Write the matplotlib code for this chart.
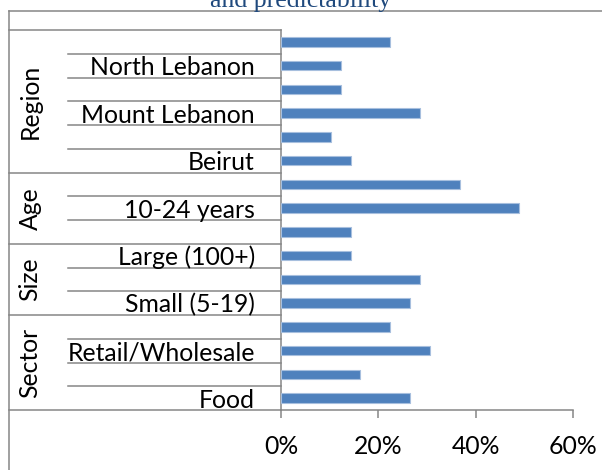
import matplotlib
matplotlib.use("Agg")
import matplotlib.pyplot as plt
from matplotlib.transforms import blended_transform_factory
from matplotlib.lines import Line2D

# ---- data ----
groups = ["Region", "Age", "Size", "Sector"]
group_sizes = [6, 3, 3, 4]
categories = ["", "North Lebanon", "", "Mount Lebanon", "", "Beirut",
              "", "10-24 years", "",
              "Large (100+)", "", "Small (5-19)",
              "", "Retail/Wholesale", "", "Food"]
values = [0.224, 0.1225, 0.1225, 0.286, 0.102, 0.143,
          0.367, 0.489, 0.143,
          0.143, 0.286, 0.265,
          0.224, 0.306, 0.163, 0.265]
x_ticks = [0, 0.2, 0.4, 0.6]
x_tick_labels = ["0%", "20%", "40%", "60%"]
title_text = "and predictability"

# ---- layout helpers (pixels) ----
W, H = 602, 470
fig = plt.figure(figsize=(W / 100, H / 100), dpi=100)
def fx(x):
    return x / W
def fy(y):
    return 1 - y / H

GRAY = "#868686"
LW = 1.1
FONT = "Lato"
FS = 17.8

ax_l, ax_r, ax_t, ax_b = 281, 573, 30, 410
ax = fig.add_axes([fx(ax_l), fy(ax_b), (ax_r - ax_l) / W, (ax_b - ax_t) / H])
n = len(categories)
ypos = [n - 1 - i for i in range(n)]
ax.barh(ypos, values, height=0.4, color="#4F81BD", edgecolor="#A7BFDE",
        linewidth=0.8, zorder=3)
ax.set_xlim(0, 0.6)
ax.set_ylim(-0.5, n - 0.5)
for s in ["top", "right"]:
    ax.spines[s].set_visible(False)
for s in ["left", "bottom"]:
    ax.spines[s].set_color(GRAY)
    ax.spines[s].set_linewidth(LW)
ax.set_yticks([])
ax.set_xticks(x_ticks)
ax.set_xticklabels(x_tick_labels, fontfamily=FONT, fontsize=FS)
ax.tick_params(axis="x", direction="out", length=6, width=LW, color=GRAY, pad=12)
ax.patch.set_visible(False)

trans = blended_transform_factory(fig.transFigure, ax.transData)

# category table lines
bounds = [0]
for g in group_sizes:
    bounds.append(bounds[-1] + g)
for k in range(n + 1):
    y = n - 0.5 - k
    x0 = 8.5 if k in bounds else 68
    fig.add_artist(Line2D([fx(x0), fx(ax_l)], [y, y], transform=trans,
                          color=GRAY, lw=LW))

# category labels
for i, lab in enumerate(categories):
    if lab:
        fig.text(fx(255), ypos[i], lab, transform=trans, ha="right",
                 va="center_baseline", fontfamily=FONT, fontsize=FS, color="black")

# group labels
for gi, g in enumerate(groups):
    top = bounds[gi]
    bot = bounds[gi + 1]
    yc = n - 0.5 - (top + bot) / 2
    fig.text(fx(30), yc, g, transform=trans, ha="center", va="center",
             rotation=90, fontfamily=FONT, fontsize=FS, color="black")

# chart border
fig.add_artist(Line2D([fx(8.5), fx(W + 5)], [fy(10.5), fy(10.5)],
                      transform=fig.transFigure, color=GRAY, lw=LW))
fig.add_artist(Line2D([fx(8.5), fx(8.5)], [fy(10.5), fy(H + 5)],
                      transform=fig.transFigure, color=GRAY, lw=LW))

# title (partially cropped at the top, as in the reference)
fig.text(fx(301), fy(7), title_text, ha="center", va="baseline",
         fontfamily="Liberation Serif", fontsize=18.5, color="#1F497D")

fig.savefig("out.png", dpi=100)
